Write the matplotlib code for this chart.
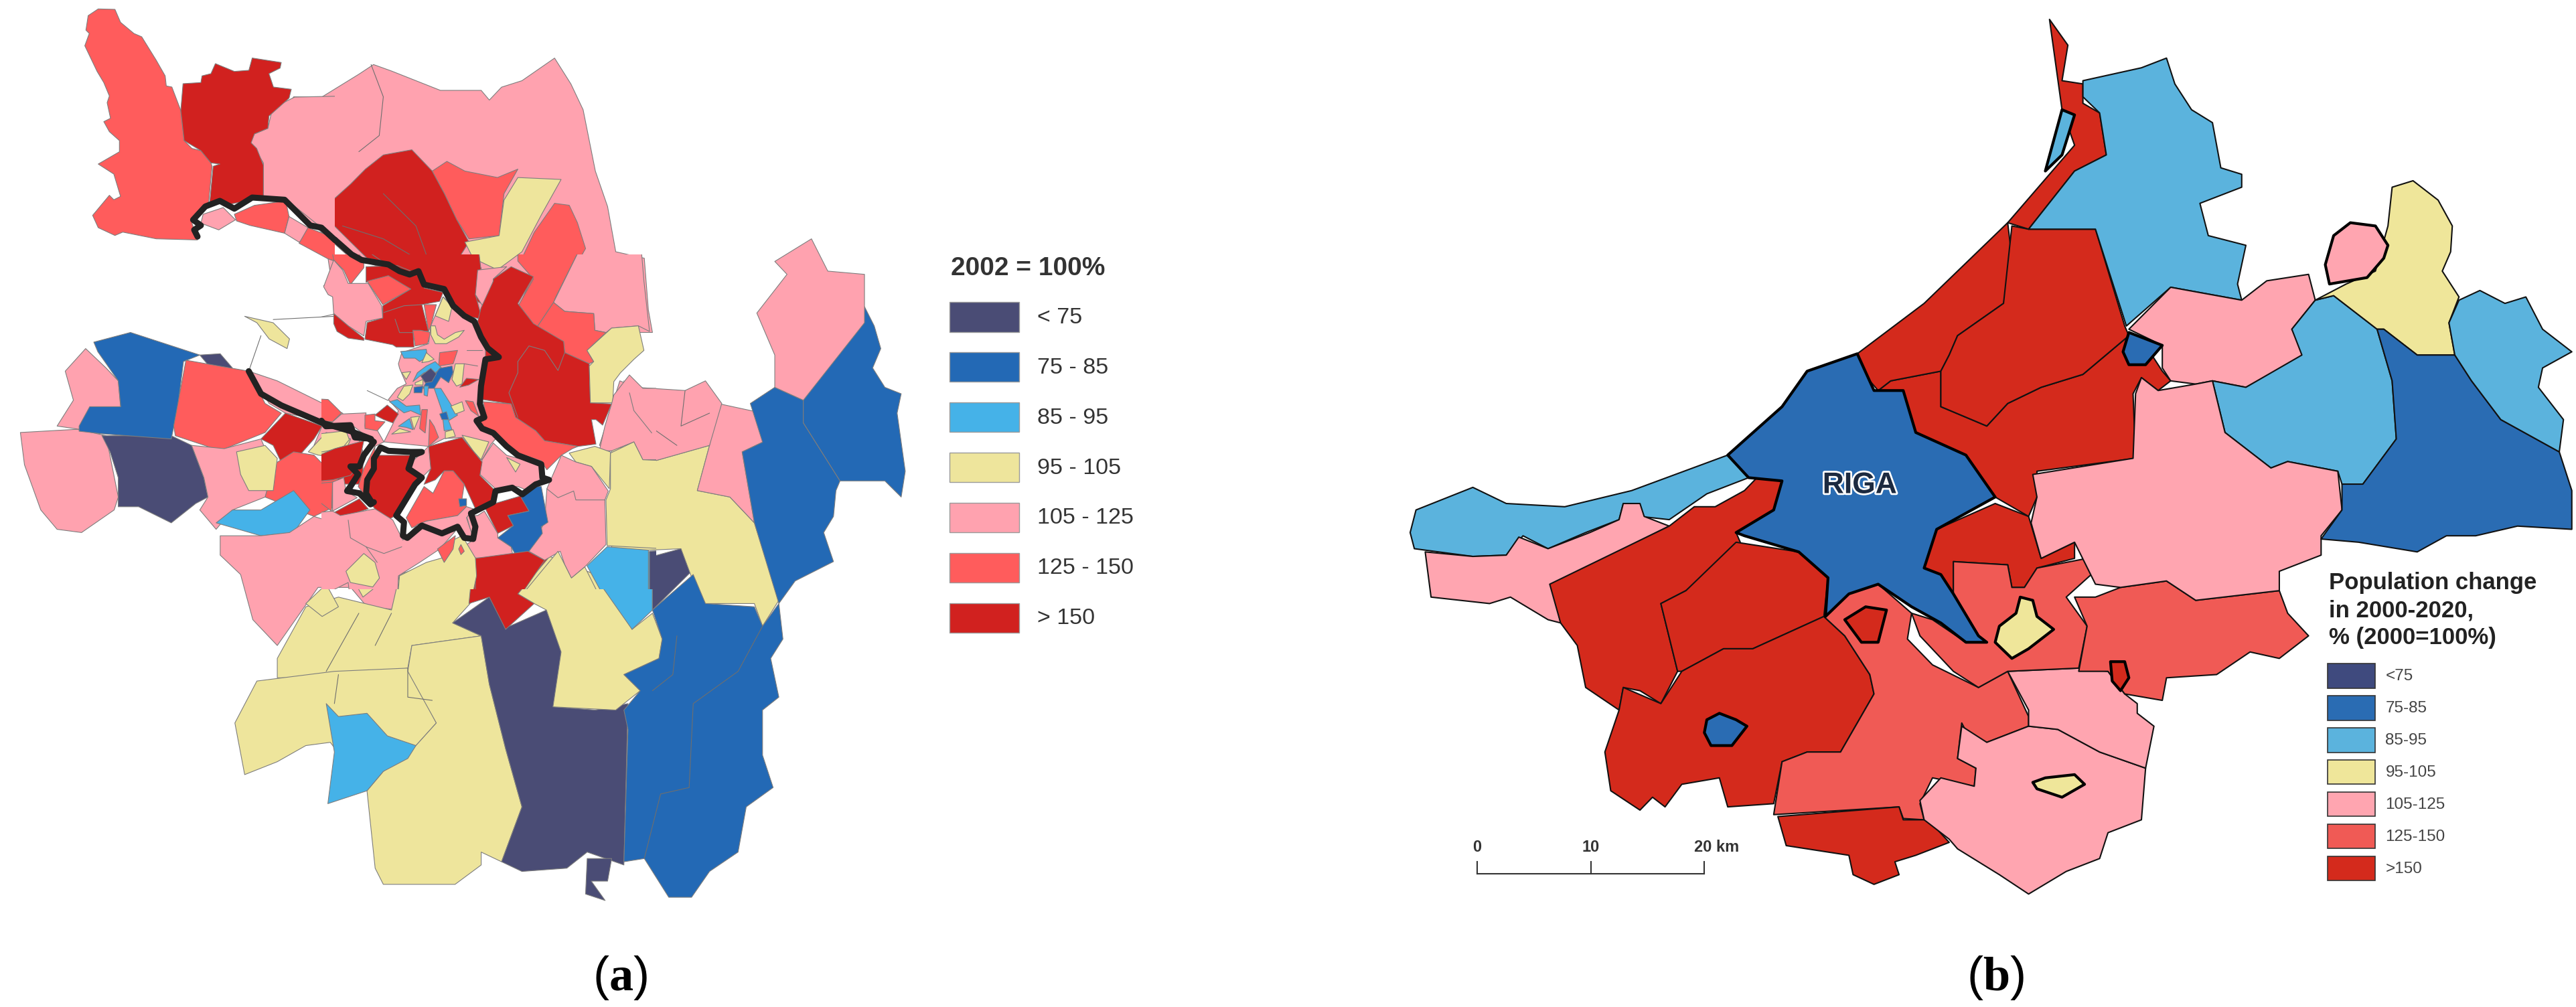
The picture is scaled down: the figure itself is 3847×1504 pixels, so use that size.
import matplotlib
matplotlib.use("Agg")
import matplotlib.pyplot as plt
import matplotlib.patheffects as pe
from matplotlib.patches import Polygon, Rectangle

plt.rcParams['font.family'] = ['Liberation Sans', 'DejaVu Sans']
plt.rcParams['mathtext.fontset'] = 'custom'
plt.rcParams['mathtext.rm'] = 'Liberation Serif'
plt.rcParams['mathtext.bf'] = 'Liberation Serif:bold'

W, H = 3847, 1504
CLASSES_A = ["< 75", "75 - 85", "85 - 95", "95 - 105", "105 - 125", "125 - 150", "> 150"]
CLASSES_B = ["<75", "75-85", "85-95", "95-105", "105-125", "125-150", ">150"]
COL_A = dict(n="#4A4C75", b="#2369B5", s="#45B2E8", y="#EEE59C", p="#FFA2AF", m="#FF5C5C", r="#D1211F")
COL_B = dict(n="#3F4A7E", b="#2A6CB3", s="#5BB3DD", y="#EFE69A", p="#FFA5B0", m="#F05A55", r="#D42A1C")
KEYS = "nbsypmr"

# Panel (a), outer districts
A_OUTER = [
 ("p", [(310,235),(345,190),(360,150),(395,150),(440,115),(458,100),(480,110),(510,125),(540,140),(590,140),(600,155),(615,135),(640,125),(680,90),(700,130),(715,170),(730,265),(745,320),(755,390),(790,400),(795,480),(800,515),(760,515),(745,530),(600,500),(540,440),(430,400),(350,310),(325,310),(325,250)]),
 ("r", [(448,262),(470,240),(505,232),(530,265),(545,300),(560,340),(575,375),(565,395),(590,415),(590,470),(560,450),(530,420),(450,400),(410,350),(408,310),(430,285)]),
 ("m", [(530,265),(548,250),(570,265),(610,275),(635,262),(618,300),(612,365),(575,370),(560,340),(545,300)]),
 ("y", [(635,275),(688,278),(665,330),(640,390),(610,418),(580,400),(570,375),(612,365),(618,310)]),
 ("m", [(680,315),(698,318),(708,345),(718,385),(700,425),(680,470),(675,505),(655,490),(640,465),(655,420),(640,400),(655,360)]),
 ("p", [(25,670),(95,665),(130,675),(145,770),(140,790),(100,825),(70,820),(50,790),(30,720)]),
 ("n", [(125,675),(210,675),(235,690),(250,740),(255,770),(240,780),(210,810),(170,785),(145,785),(145,740),(135,700)]),
 ("p", [(80,575),(105,540),(130,570),(145,590),(148,632),(110,632),(97,665),(70,660),(90,620)]),
 ("b", [(97,660),(110,630),(148,630),(145,590),(120,545),(115,530),(160,515),(245,550),(225,560),(218,630),(210,680),(125,672),(97,668)]),
 ("n", [(245,550),(270,548),(285,570),(265,580)]),
 ("m", [(228,558),(305,575),(325,625),(345,640),(325,670),(270,698),(215,675),(213,660)]),
 ("p", [(305,575),(340,590),(420,640),(430,660),(350,640),(330,625)]),
 ("r", [(320,680),(350,640),(395,660),(385,680),(350,730),(335,690)]),
 ("p", [(395,660),(430,660),(440,680),(445,700),(425,700),(385,690)]),
 ("y", [(378,700),(400,670),(430,680),(420,710),(390,705)]),
 ("r", [(390,750),(425,700),(445,700),(445,750),(410,750)]),
 ("m", [(335,720),(360,700),(385,705),(420,750),(410,785),(385,800),(325,770)]),
 ("p", [(235,690),(275,695),(320,680),(335,725),(325,770),(285,790),(265,820),(245,790),(255,770),(250,740)]),
 ("y", [(290,700),(325,690),(340,710),(335,760),(305,760),(295,735)]),
 ("s", [(265,810),(285,790),(320,790),(360,760),(380,790),(360,825),(320,830)]),
 ("p", [(270,830),(320,830),(355,825),(385,800),(410,810),(450,800),(500,845),(490,945),(450,940),(430,910),(390,910),(340,1000),(310,960),(295,890),(270,860)]),
 ("y", [(340,1020),(375,940),(415,925),(480,945),(490,890),(580,850),(580,930),(555,965),(590,985),(505,1000),(500,1035),(420,1050),(340,1050)]),
 ("y", [(375,935),(400,905),(415,940),(395,955)]),
 ("y", [(430,890),(450,865),(470,900),(445,925)]),
 ("y", [(288,1120),(315,1055),(410,1040),(500,1035),(535,1120),(510,1155),(450,1225),(405,1150),(375,1155),(340,1180),(300,1200)]),
 ("y", [(450,1225),(470,1195),(510,1155),(535,1120),(500,1040),(505,1000),(590,985),(600,1060),(620,1160),(640,1250),(615,1335),(590,1320),(590,1340),(558,1370),(470,1370),(460,1345)]),
 ("s", [(400,1090),(415,1110),(450,1105),(475,1140),(510,1155),(500,1175),(470,1195),(450,1225),(402,1245),(410,1165)]),
 ("n", [(555,965),(600,925),(625,970),(670,945),(690,1010),(680,1095),(730,1100),(770,1090),(765,1340),(720,1320),(695,1345),(640,1350),(615,1335),(640,1250),(620,1160),(600,1060),(590,985)]),
 ("n", [(720,1330),(750,1330),(745,1365),(725,1365),(742,1395),(718,1385)]),
 ("y", [(635,920),(670,860),(720,885),(740,895),(775,975),(800,950),(812,990),(808,1020),(765,1045),(785,1070),(755,1100),(678,1095),(688,1010),(670,945),(655,935)]),
 ("r", [(580,870),(672,865),(635,920),(655,935),(620,975),(600,925),(575,935)]),
 ("s", [(725,885),(755,855),(800,855),(800,945),(775,975)]),
 ("n", [(800,862),(835,850),(848,885),(800,945)]),
 ("y", [(750,695),(780,690),(800,715),(870,690),(855,760),(895,770),(925,810),(955,930),(935,970),(925,935),(860,935),(835,850),(750,855)]),
 ("p", [(855,760),(870,690),(880,625),(935,640),(935,685),(910,700),(925,810),(895,770)]),
 ("p", [(735,690),(760,590),(780,600),(840,605),(865,590),(885,625),(870,690),(800,715),(780,690)]),
 ("b", [(920,625),(950,600),(985,620),(985,655),(1030,745),(1025,760),(1022,800),(1010,825),(1022,870),(975,900),(955,935),(925,810),(910,700),(935,685)]),
 ("b", [(985,620),(1055,500),(1060,475),(1072,505),(1080,540),(1070,570),(1085,600),(1105,610),(1100,640),(1110,730),(1105,770),(1085,745),(1030,745),(985,655)]),
 ("p", [(928,485),(965,425),(950,405),(995,370),(1015,420),(1060,425),(1060,500),(985,620),(950,600),(950,550)]),
 ("b", [(800,945),(850,890),(865,935),(925,940),(935,970),(955,935),(960,990),(945,1020),(955,1080),(935,1100),(935,1170),(948,1220),(915,1250),(905,1320),(870,1350),(848,1390),(820,1390),(790,1330),(765,1335),(770,1130),(765,1100),(785,1070),(765,1045),(808,1020),(812,990)]),
 ("y", [(300,490),(335,500),(355,525),(352,540),(330,525),(315,500)]),
]
A_OUTER_LINES = [
 [(830,985),(825,1045),(800,1070)],
 [(935,970),(905,1040),(850,1090),(845,1220),(810,1230),(790,1330)],
 [(335,495),(410,490)],
 [(320,520),(305,575)],
 [(470,300),(510,350),(530,420)],
 [(420,350),(470,370),(510,400)],
 [(455,100),(470,150),(465,210),(440,235)],
 [(765,590),(785,650),(830,690)],
 [(840,605),(835,660),(870,640)],
 [(500,1035),(500,1080),(530,1085)],
 [(415,1045),(410,1090)],
 [(460,1000),(480,950)],
 [(400,1040),(440,950)],
]

# Panel (a), north-west detail
A_NW = [
 ("p", [(1180,885),(1180,730),(1150,680),(1120,640),(1140,600),(1200,575),(1215,510),(1250,470),(1320,435),(1500,430),(1500,1100),(1440,1020),(1290,900)]),
 ("m", [(440,40),(515,42),(540,100),(600,150),(635,165),(700,270),(740,340),(745,385),(770,390),(810,495),(825,630),(860,665),(900,675),(945,730),(950,745),(935,905),(890,960),(860,1000),(885,1075),(700,1070),(600,1050),(550,1040),(515,1055),(440,1020),(415,965),(490,875),(510,895),(540,880),(510,780),(440,735),(535,680),(535,630),(490,590),(465,545),(495,530),(480,460),(490,430),(465,370),(435,320),(380,205),(400,150),(385,135),(395,70)]),
 ("r", [(820,375),(900,370),(905,340),(945,330),(965,285),(1050,320),(1115,315),(1130,260),(1260,280),(1255,305),(1205,330),(1225,390),(1305,400),(1295,440),(1250,480),(1205,520),(1200,575),(1140,600),(1125,640),(1150,665),(1180,740),(1180,885),(1030,915),(940,905),(955,745),(985,735),(945,730),(900,675),(825,630),(810,495)]),
 ("p", [(910,960),(1000,930),(1055,985),(980,1030),(900,1000)]),
 ("m", [(1050,960),(1140,920),(1280,900),(1295,970),(1275,1045),(1120,1010),(1060,990)]),
 ("p", [(1295,970),(1380,1020),(1365,1070),(1340,1085),(1275,1045)]),
 ("m", [(1380,1020),(1500,1090),(1500,1190),(1470,1160),(1340,1090)]),
 ("p", [(1470,1160),(1500,1190),(1500,1360),(1450,1280),(1485,1260)]),
]
A_NW_BORDER = [(885,1060),(870,1030),(900,1010),(865,985),(920,925),(985,900),(1050,935),(1130,885),(1275,895),(1390,1010),(1440,1020),(1500,1075)]

# Panel (a), central detail
A_CENTRE = [
 ("r", [(140,0),(700,0),(715,70),(690,180),(720,290),(640,275),(545,170),(460,140),(300,50)]),
 ("m", [(0,0),(140,0),(190,40),(190,60),(130,135),(100,70),(55,25),(40,0)]),
 ("p", [(10,145),(55,25),(95,70),(120,130),(170,130),(210,130),(270,230),(275,285),(200,300),(190,365),(120,320),(55,265),(50,190),(30,180)]),
 ("r", [(200,55),(340,50),(440,90),(460,150),(545,170),(530,210),(450,225),(480,345),(410,340),(415,415),(335,415),(320,405),(195,380),(205,305),(275,285),(275,230),(400,155),(300,100),(200,125)]),
 ("m", [(205,120),(300,95),(400,155),(275,225)]),
 ("r", [(55,265),(120,320),(190,375),(190,385),(120,375),(70,345),(55,310)]),
 ("m", [(460,225),(515,225),(490,320),(480,345)]),
 ("m", [(410,340),(445,340),(490,350),(475,400),(420,410)]),
 ("p", [(490,320),(545,190),(590,230),(640,280),(690,310),(740,420),(735,470),(715,600),(710,680),(730,720),(695,745),(720,790),(790,815),(760,850),(720,920),(630,820),(550,825),(480,860),(280,840),(320,760),(345,700),(300,650),(340,600),(380,580),(350,510),(345,490),(360,440),(480,400)]),
 ("y", [(545,190),(585,235),(570,300),(510,275)]),
 ("y", [(490,320),(510,320),(520,360),(550,380),(600,350),(640,340),(615,370),(560,400),(510,400),(490,360)]),
 ("m", [(530,440),(610,430),(590,490),(525,500)]),
 ("s", [(355,435),(470,425),(475,460),(440,480),(420,465),(370,465)]),
 ("y", [(470,440),(505,470),(480,480),(450,485)]),
 ("s", [(410,570),(430,530),(470,500),(510,480),(540,510),(510,530),(460,530)]),
 ("b", [(470,570),(500,550),(530,510),(585,500),(590,530),(570,575),(535,550),(505,600),(455,600)]),
 ("n", [(445,545),(490,510),(515,535),(495,570),(465,575)]),
 ("b", [(415,595),(455,590),(450,620),(415,620)]),
 ("s", [(460,590),(480,590),(475,635),(460,630)]),
 ("s", [(505,600),(535,600),(610,720),(570,745),(585,785),(550,790),(540,700)]),
 ("b", [(530,715),(560,705),(570,740),(540,740)]),
 ("y", [(580,680),(630,660),(640,700),(600,715)]),
 ("y", [(555,795),(590,785),(600,815),(555,825)]),
 ("y", [(600,490),(640,490),(630,580),(605,590),(585,560)]),
 ("y", [(340,640),(370,590),(410,585),(395,625),(365,655)]),
 ("y", [(360,530),(400,525),(380,560)]),
 ("y", [(420,575),(455,560),(455,585),(420,585)]),
 ("r", [(620,595),(650,555),(705,560),(660,585)]),
 ("s", [(345,770),(395,735),(410,785),(380,775)]),
 ("y", [(400,730),(440,725),(415,785)]),
 ("y", [(315,805),(350,780),(400,795)]),
 ("m", [(440,780),(450,695),(475,695),(465,800)]),
 ("m", [(485,740),(505,770),(525,820),(480,860)]),
 ("m", [(645,655),(680,660),(705,725),(670,700)]),
 ("s", [(305,660),(340,650),(380,680),(440,675),(445,720),(400,700),(370,710)]),
 ("p", [(700,70),(830,55),(770,110),(765,210),(725,235),(690,180)]),
 ("m", [(880,0),(1175,0),(1050,190),(1040,215),(960,335),(885,225),(950,110),(880,30)]),
 ("p", [(1175,0),(1430,0),(1445,120),(1470,345),(1420,320),(1300,330),(1275,350),(1225,340),(1220,265),(1090,255),(1040,215)]),
 ("m", [(1040,215),(1090,255),(1220,265),(1225,340),(1275,350),(1190,430),(1220,480),(1200,490),(1090,440),(1085,390),(960,335)]),
 ("r", [(770,110),(850,55),(950,100),(880,220),(950,310),(1085,390),(1090,440),(1200,490),(1205,665),(1300,670),(1260,765),(1230,740),(1210,740),(1230,850),(1150,860),(1000,835),(960,790),(870,730),(850,670),(720,650),(735,450),(735,400),(700,300),(715,240),(770,120)]),
 ("m", [(725,660),(850,670),(870,730),(960,790),(1000,835),(1150,860),(1125,870),(1075,900),(1010,965),(985,925),(850,880),(770,800),(700,770),(690,735),(735,710)]),
 ("y", [(1200,500),(1220,480),(1190,430),(1300,330),(1420,320),(1445,430),(1400,470),(1340,530),(1310,570),(1305,665),(1205,665)]),
 ("p", [(1310,630),(1380,540),(1440,600),(1500,600),(1500,920),(1440,920),(1400,840),(1300,880),(1245,880),(1270,770),(1300,670)]),
 ("y", [(1295,890),(1400,840),(1440,920),(1500,925),(1500,1320),(1280,1305),(1275,1100),(1295,1050)]),
 ("y", [(1110,890),(1225,860),(1295,885),(1290,1050),(1210,950),(1140,930)]),
 ("p", [(1075,900),(1140,930),(1210,950),(1285,1060),(1270,1100),(1275,1300),(1180,1400),(1120,1450),(1090,1390),(1070,1330),(1000,1370),(930,1330),(1000,1200),(1010,1050)]),
 ("s", [(1190,1395),(1280,1310),(1465,1325),(1465,1500),(1280,1500)]),
 ("n", [(1470,1330),(1500,1325),(1500,1500),(1470,1500)]),
 ("p", [(700,1170),(730,1150),(790,1250),(790,1270),(850,1310),(860,1360),(680,1360),(650,1300),(680,1280),(650,1170)]),
 ("r", [(730,1130),(900,1080),(930,1150),(835,1170),(860,1215),(790,1250)]),
 ("b", [(960,1040),(985,1040),(1015,1200),(985,1220),(990,1250),(930,1330),(875,1355),(850,1310),(790,1270),(860,1215),(835,1170),(930,1150),(895,1090)]),
 ("r", [(665,1365),(925,1330),(1000,1370),(870,1500),(690,1500),(690,1440)]),
 ("y", [(870,1500),(1060,1330),(1120,1450),(1180,1400),(1260,1500)]),
 ("p", [(720,920),(770,845),(830,900),(980,940),(985,1000),(930,1060),(880,1040),(780,1050),(710,985)]),
 ("y", [(630,810),(750,840),(715,920),(680,880)]),
 ("y", [(830,910),(890,940),(870,975)]),
 ("r", [(480,860),(630,820),(720,930),(710,990),(770,1050),(770,1100),(730,1130),(690,1140),(640,1030),(590,970),(550,970),(510,1010),(460,1030),(490,960),(480,920)]),
 ("m", [(380,1180),(460,1040),(500,1070),(520,1030),(550,970),(590,970),(640,1030),(630,1095),(650,1130),(610,1170),(470,1195),(405,1225)]),
 ("p", [(470,1195),(610,1170),(650,1130),(680,1140),(650,1180),(680,1270),(650,1280),(610,1220),(540,1250),(430,1210)]),
 ("b", [(615,1095),(650,1095),(650,1125),(620,1130)]),
 ("m", [(165,1040),(190,960),(240,860),(230,1130)]),
 ("r", [(240,900),(410,900),(380,960),(430,1000),(410,1050),(330,1170),(300,1190),(240,1140),(200,1090),(230,950)]),
 ("p", [(415,920),(450,890),(480,860),(490,960),(450,1000),(380,960)]),
 ("y", [(0,810),(110,790),(125,830),(100,860),(30,880),(0,895)]),
 ("r", [(0,920),(60,870),(190,835),(165,950),(130,990),(50,1010),(0,1020)]),
 ("m", [(0,645),(30,650),(90,710),(50,750),(0,740)]),
 ("p", [(50,750),(90,715),(200,710),(195,770),(240,770),(280,840),(240,860),(210,820),(130,760),(20,770)]),
 ("r", [(240,720),(295,675),(345,715),(320,755),(280,740)]),
 ("m", [(195,720),(240,715),(240,745),(285,750),(250,790),(195,780)]),
 ("p", [(50,1020),(100,1000),(110,1060),(160,1090),(50,1150)]),
 ("m", [(0,1030),(50,1020),(45,1150),(0,1070)]),
 ("r", [(50,1160),(170,1095),(210,1140),(85,1180),(70,1215)]),
 ("p", [(0,1160),(50,1150),(85,1170),(240,1140),(320,1190),(365,1280),(430,1210),(540,1250),(600,1240),(530,1320),(440,1380),(345,1440),(340,1500),(130,1500),(120,1470),(0,1500)]),
 ("y", [(110,1420),(190,1340),(240,1380),(260,1450),(230,1490),(130,1470)]),
 ("y", [(340,1500),(350,1440),(470,1380),(540,1360),(590,1280),(630,1260),(690,1360),(695,1440),(670,1500)]),
 ("m", [(520,1320),(600,1260),(590,1320),(550,1380)]),
 ("m", [(625,1300),(640,1330),(625,1345),(615,1320)]),
]
A_CENTRE_LINES = [
 [(205,610),(300,655)],
 [(0,280),(55,268)],
 [(880,480),(930,410),(1000,430),(1060,520),(1090,440)],
 [(880,480),(880,530),(840,620),(880,730)],
 [(1010,1050),(1060,1090),(1130,1060),(1140,1100),(1270,1100)],
 [(1380,620),(1400,700),(1480,800)],
 [(120,1190),(130,1270),(200,1310),(250,1380)],
 [(200,1310),(280,1340),(360,1310)],
 [(650,430),(720,430)],
 [(640,490),(700,500)],
 [(280,260),(370,230),(450,225)],
 [(330,290),(350,350),(410,350)],
]
A_BORDER_MAIN = [(60,-66),(135,0),(180,25),(300,45),(350,75),(395,90),(435,75),(460,135),(550,155),(590,230),(640,275),(685,300),(715,370),(745,420),(795,460),(735,470),(715,590),(710,670),(730,730),(695,745),(720,780),(770,800),(830,860),(880,900),(985,940),(990,1000),(1020,1010),(960,1030),(900,1075),(855,1045),(780,1060),(770,1110),(670,1160),(690,1220),(680,1275),(640,1270),(610,1220),(540,1250),(450,1215),(385,1270),(365,1260),(370,1200),(335,1170),(420,1030),(450,1000),(390,960),(410,900),(450,885),(400,885),(300,880),(265,865),(235,915),(235,960),(205,1010),(200,1070),(225,1110)]
A_BORDER_WEST = [(0,745),(20,770),(130,765),(150,820),(210,825),(235,840),(190,900),(170,950),(130,950),(165,985),(130,1040),(115,1060),(170,1070),(220,1120),(235,1110)]
A_BORDER_WEST_OUTER = [(305,575),(320,610),(345,628),(395,655),(430,668),(455,680)]

# Panel (b)
B_ZONES = [
 ("s", [(172,790),(240,755),(280,780),(350,785),(430,760),(545,705),(570,740),(520,765),(475,805),(440,800),(420,780),(415,805),(375,825),(330,850),(300,830),(280,860),(240,862),(170,850),(165,825)]),
 ("p", [(183,855),(240,862),(280,860),(295,832),(330,850),(380,825),(415,805),(420,780),(440,780),(445,800),(475,815),(335,905),(345,965),(330,960),(285,925),(260,935),(190,925)]),
 ("r", [(332,905),(475,815),(505,785),(530,785),(565,760),(580,740),(610,745),(600,790),(555,825),(560,840),(540,870),(495,915),(465,935),(485,1040),(465,1090),(440,1070),(420,1065),(415,1100),(375,1065),(365,1000),(345,965)]),
 ("r", [(465,935),(495,915),(555,840),(630,855),(665,895),(660,955),(575,1005),(540,1005),(490,1040),(485,1040)]),
 ("r", [(415,1100),(420,1065),(465,1090),(490,1040),(540,1005),(575,1005),(660,955),(685,985),(715,1045),(720,1075),(680,1165),(640,1165),(610,1180),(600,1245),(545,1250),(535,1205),(490,1215),(470,1250),(455,1235),(440,1255),(405,1225),(398,1165)]),
 ("m", [(660,955),(690,920),(725,905),(765,950),(760,990),(790,1030),(845,1065),(880,1040),(905,1110),(905,1125),(855,1150),(835,1145),(825,1120),(820,1175),(842,1190),(840,1218),(790,1205),(775,1245),(780,1270),(755,1268),(750,1250),(600,1262),(610,1180),(640,1165),(680,1165),(720,1075),(715,1045),(685,985)]),
 ("r", [(605,1265),(750,1250),(755,1270),(785,1270),(810,1305),(770,1325),(745,1335),(750,1355),(720,1370),(695,1355),(690,1325),(615,1310)]),
 ("p", [(775,1240),(800,1205),(840,1218),(842,1190),(820,1175),(825,1125),(855,1150),(905,1125),(940,1130),(990,1165),(1045,1190),(1040,1270),(1000,1290),(990,1330),(950,1350),(905,1385),(870,1355),(820,1315),(810,1300),(780,1270)]),
 ("p", [(880,1040),(965,1035),(1000,1040),(1020,1075),(1035,1090),(1035,1105),(1055,1125),(1045,1190),(990,1165),(940,1130),(905,1125),(905,1100)]),
 ("r", [(795,820),(865,780),(905,800),(920,865),(960,840),(960,865),(915,880),(900,910),(885,910),(880,875),(815,870),(815,920),(800,890),(780,880)]),
 ("m", [(765,950),(775,985),(815,1040),(845,1065),(880,1040),(965,1035),(975,970),(950,925),(980,890),(975,865),(915,880),(900,910),(885,910),(880,875),(815,870),(815,920),(845,985),(855,995),(830,995),(790,960)]),
 ("m", [(960,925),(985,925),(1015,910),(1070,900),(1105,930),(1205,915),(1215,950),(1240,985),(1205,1020),(1170,1010),(1130,1045),(1070,1050),(1065,1085),(1020,1075),(1000,1040),(975,1040),(965,1040),(975,970)]),
 ("r", [(740,590),(800,575),(800,630),(855,660),(880,625),(920,600),(970,580),(1025,520),(1050,545),(1065,575),(1075,590),(1060,605),(1040,585),(1030,610),(1033,710),(915,730),(915,770),(905,800),(865,770),(830,705),(770,670),(755,605),(725,605)]),
 ("r", [(700,548),(780,470),(880,345),(885,400),(875,470),(820,520),(810,550),(800,575),(740,590),(725,605),(715,590)]),
 ("r", [(885,350),(905,355),(985,355),(1020,505),(1025,520),(970,580),(920,600),(880,625),(855,660),(800,630),(800,575),(810,550),(820,520),(875,470)]),
 ("r", [(880,345),(960,225),(945,170),(930,30),(952,70),(945,125),(970,130),(970,160),(990,175),(998,240),(960,265),(905,355)]),
 ("s", [(905,355),(960,265),(998,240),(990,175),(970,150),(970,125),(1040,105),(1070,90),(1080,130),(1100,170),(1125,190),(1135,260),(1160,270),(1160,290),(1110,315),(1120,365),(1165,380),(1155,440),(1160,465),(1075,445),(1022,505),(985,355)]),
 ("p", [(1025,510),(1075,445),(1160,465),(1190,435),(1240,425),(1248,465),(1220,510),(1235,550),(1165,600),(1125,590),(1105,595),(1075,590),(1065,570),(1065,535)]),
 ("s", [(1125,590),(1165,600),(1232,550),(1220,510),(1248,465),(1270,458),(1322,510),(1340,590),(1345,680),(1305,750),(1280,750),(1275,730),(1215,715),(1195,725),(1140,670)]),
 ("p", [(910,735),(1030,710),(1033,610),(1040,585),(1060,605),(1105,595),(1125,590),(1140,670),(1195,725),(1215,715),(1275,730),(1280,790),(1255,830),(1255,860),(1205,885),(1205,915),(1105,930),(1070,900),(1015,910),(985,905),(960,840),(920,865),(908,810),(915,770)]),
 ("y", [(1248,465),(1285,440),(1320,420),(1335,350),(1340,290),(1365,280),(1395,310),(1412,350),(1410,390),(1400,420),(1420,460),(1408,500),(1415,550),(1370,550),(1330,510),(1322,510),(1270,458)]),
 ("b", [(1305,750),(1345,680),(1340,590),(1322,510),(1330,510),(1370,550),(1415,550),(1435,590),(1470,650),(1540,700),(1555,760),(1555,820),(1490,815),(1440,830),(1405,830),(1370,855),(1300,840),(1255,835),(1280,790),(1280,750)]),
 ("s", [(1408,500),(1420,465),(1445,450),(1475,470),(1500,460),(1520,510),(1555,545),(1520,570),(1515,600),(1545,650),(1540,700),(1470,650),(1435,590),(1415,550)]),
]
B_TOWNS = [
 ("b", [(700,548),(720,605),(755,605),(770,670),(830,705),(865,770),(795,820),(780,880),(800,890),(815,920),(845,985),(855,995),(830,995),(800,965),(765,940),(725,905),(690,920),(662,955),(665,895),(630,855),(565,830),(555,825),(600,790),(610,745),(570,740),(545,705),(610,630),(640,575)]),
 ("s", [(925,265),(945,170),(960,178),(945,240)]),
 ("b", [(520,1115),(535,1105),(555,1115),(568,1125),(550,1155),(525,1155),(517,1135)]),
 ("r", [(685,960),(710,940),(735,945),(725,995),(705,995)]),
 ("y", [(910,1212),(925,1205),(960,1200),(972,1215),(945,1235),(915,1222)]),
 ("y", [(870,970),(890,950),(895,925),(910,930),(915,955),(935,975),(905,1005),(885,1020),(865,995)]),
 ("r", [(1003,1025),(1020,1025),(1025,1050),(1015,1070),(1005,1055)]),
 ("b", [(1018,545),(1025,515),(1065,535),(1045,565),(1025,565)]),
 ("p", [(1260,410),(1270,365),(1290,345),(1320,350),(1335,380),(1330,400),(1310,430),(1265,440)]),
]
SCALE_KM = [0, 10, 20]


def sheet(x0, y0, w, h, span_x, span_y, z):
    ax = fig.add_axes([x0 / W, 1 - (y0 + h) / H, w / W, h / H], zorder=z)
    ax.set_xlim(0, span_x)
    ax.set_ylim(span_y, 0)
    ax.axis("off")
    ax.patch.set_alpha(0)
    return ax


def bleed(v):
    # a detail sheet's polygons run past its edge, so that no outline is drawn along the edge
    return -60 if v == 0 else 1560 if v == 1500 else v


def draw(ax, polys, cols, ec, lw, detail=False):
    for key, pts in polys:
        if detail:
            pts = [(bleed(x), bleed(y)) for x, y in pts]
        ax.add_patch(Polygon(pts, closed=True, fc=cols[key], ec=ec, lw=lw, joinstyle="round"))


def lines(ax, paths, color, lw, clip=True):
    for path in paths:
        ax.plot(*zip(*path), color=color, lw=lw, clip_on=clip, solid_joinstyle="round", solid_capstyle="round")


fig = plt.figure(figsize=(W / 100, H / 100), dpi=100, facecolor="white")

a = sheet(0, 0, 1900, 1504, 1560, 1560, 1)
draw(a, A_OUTER, COL_A, "#7d7d7d", 0.8)
lines(a, A_OUTER_LINES, "#6f6f6f", 0.8)
nw = sheet(0, 0, 500, 500, 1500, 1500, 2)
draw(nw, A_NW, COL_A, "#7d7d7d", 0.8, detail=True)
c = sheet(480, 380, 500, 500, 1500, 1500, 3)
draw(c, A_CENTRE, COL_A, "#7d7d7d", 0.8, detail=True)
lines(c, A_CENTRE_LINES, "#7d7d7d", 0.8)
a_top = sheet(0, 0, 1900, 1504, 1560, 1560, 4)
lines(a_top, [A_BORDER_WEST_OUTER], "#222222", 6.5)
nw_top = sheet(0, 0, 500, 500, 1500, 1500, 4)
lines(nw_top, [A_NW_BORDER], "#222222", 6.5, clip=False)
c_top = sheet(480, 380, 500, 500, 1500, 1500, 4)
lines(c_top, [A_BORDER_MAIN, A_BORDER_WEST], "#222222", 6.5, clip=False)

a_leg = sheet(0, 0, 1900, 1504, 1560, 1560, 5)
a_leg.text(1166, 416, "2002 = 100%", fontsize=28, fontweight="bold", color="#333333", va="center", ha="left")
for i, (key, lab) in enumerate(zip(KEYS, CLASSES_A)):
    y = 468 + i * 77.7
    a_leg.add_patch(Rectangle((1164, y), 86, 46, fc=COL_A[key], ec="#9a9a9a", lw=1.0))
    a_leg.text(1272, y + 24, lab, fontsize=24.5, color="#333333", va="center", ha="left")
a_leg.text(760, 1515, r"($\mathbf{a}$)", fontsize=52, color="black", va="center", ha="center")

b = sheet(1900, 0, 1947, 1504, 1560, 1560, 1)
draw(b, B_ZONES, COL_B, "#111111", 1.5)
draw(b, B_TOWNS, COL_B, "#000000", 3.0)
b.text(703, 752, "RIGA", fontsize=32, fontweight="bold", color="#1c2a40", ha="center", va="center",
       path_effects=[pe.withStroke(linewidth=4, foreground="white")])
for i, line in enumerate(["Population change", "in 2000-2020,", "% (2000=100%)"]):
    b.text(1264, 903 + i * 42.5, line, fontsize=25, fontweight="bold", color="#222222", va="center", ha="left")
for i, (key, lab) in enumerate(zip(KEYS, CLASSES_B)):
    y = 1028 + i * 49.7
    b.add_patch(Rectangle((1263, y), 57, 38, fc=COL_B[key], ec="#333333", lw=1.2))
    b.text(1332, y + 20, lab, fontsize=17.5, color="#444444", va="center", ha="left")
x_km = lambda km: 245 + km * 13.6
b.plot([x_km(SCALE_KM[0]), x_km(SCALE_KM[-1])], [1354, 1354], color="#333333", lw=1.5)
for km in SCALE_KM:
    b.plot([x_km(km)] * 2, [1354, 1335], color="#333333", lw=1.5)
    b.text(x_km(km), 1313, str(km) if km < 20 else "", fontsize=17, fontweight="bold", color="#333333", ha="center", va="center")
b.text(505, 1313, f"{SCALE_KM[-1]} km", fontsize=17, fontweight="bold", color="#333333", ha="left", va="center")
b.text(865, 1515, r"($\mathbf{b}$)", fontsize=52, color="black", va="center", ha="center")

fig.savefig("out.png", dpi=100)
